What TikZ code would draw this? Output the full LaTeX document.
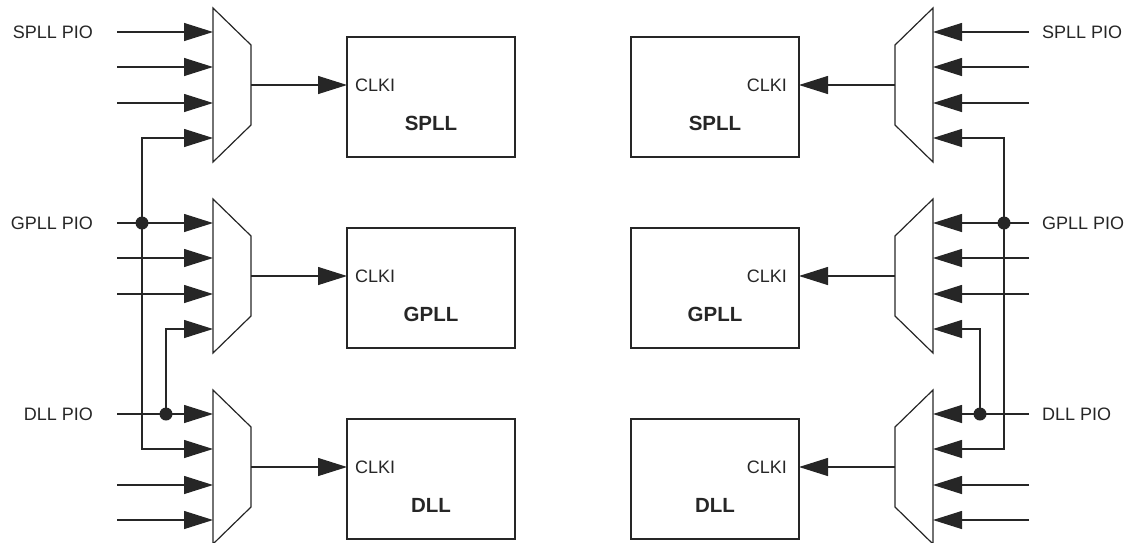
\documentclass[tikz,border=0pt]{standalone}
\usepackage{fontspec}
\setmainfont{Liberation Sans}
\usetikzlibrary{arrows.meta}
\tikzset{
  wire/.style={line width=1.2pt, draw=black!85},
  sig/.style={wire, -{Triangle[length=29pt,width=18pt]}},
  muxshape/.style={line width=1.2pt, draw=black!85},
  blk/.style={draw=black!85, line width=1.2pt, minimum width=168pt, minimum height=120pt, inner sep=0pt},
  lbl/.style={font=\fontsize{18}{20}\selectfont, inner sep=0pt, text=black!85},
  blkname/.style={font=\fontsize{20.5}{22}\selectfont\bfseries, inner sep=0pt, text=black!85},
  jdot/.style={fill=black!85},
}
% #1 prefix, #2 label anchor, #3 label x, #4 CLKI anchor, #5 CLKI x
\newcommand\drawside[5]{%
  \foreach \n/\c/\t in {1/85/SPLL,2/276/GPLL,3/467/DLL}{
    \draw[muxshape] (213,\c-77) -- (251,\c-40) -- (251,\c+40) -- (213,\c+77) -- cycle;
    \coordinate (#1m\n i1) at (213,\c-53);
    \coordinate (#1m\n i2) at (213,\c-18);
    \coordinate (#1m\n i3) at (213,\c+18);
    \coordinate (#1m\n i4) at (213,\c+53);
    \coordinate (#1m\n o) at (251,\c);
    \coordinate (#1pin\n) at (347,\c);
    \node[blk] (#1b\n) at (431,\c+12) {};
    \node[lbl, anchor=#4] (#1clk\n) at (#5,\c) {CLKI};
    \node[blkname] (#1name\n) at (431,\c+38) {\t};
    \draw[sig] (#1m\n o) -- (#1pin\n);
  }
  % labels
  \node[lbl, anchor=#2] (#1lS) at (#3,32) {SPLL PIO};
  \node[lbl, anchor=#2] (#1lG) at (#3,223) {GPLL PIO};
  \node[lbl, anchor=#2] (#1lD) at (#3,414) {DLL PIO};
  % free input starts
  \coordinate (#1s11) at (117,32);
  \coordinate (#1s12) at (117,67);
  \coordinate (#1s13) at (117,103);
  \coordinate (#1s21) at (117,223);
  \coordinate (#1s22) at (117,258);
  \coordinate (#1s23) at (117,294);
  \coordinate (#1s31) at (117,414);
  \coordinate (#1s33) at (117,485);
  \coordinate (#1s34) at (117,520);
  \foreach \a/\b in {s11/m1i1,s12/m1i2,s13/m1i3,s21/m2i1,s22/m2i2,s23/m2i3,s31/m3i1,s33/m3i3,s34/m3i4}{
    \draw[sig] (#1\a) -- (#1\b);
  }
  % junctions
  \coordinate (#1jG) at (142,223);
  \coordinate (#1jD) at (166,414);
  \draw[sig] (#1jG) |- (#1m1i4);
  \draw[sig] (#1jG) |- (#1m3i2);
  \draw[sig] (#1jD) |- (#1m2i4);
  \fill[jdot] (#1jG) circle (6.5pt);
  \fill[jdot] (#1jD) circle (6.5pt);
}
\begin{document}
\begin{tikzpicture}[x=1pt,y=-1pt]
  \useasboundingbox (0,0) rectangle (1132,542);
  \clip (0,0) rectangle (1132,542);
  \drawside{L}{east}{93}{west}{355}
  \begin{scope}[xshift=1146pt, xscale=-1]
    \drawside{R}{west}{104}{east}{359}
  \end{scope}
\end{tikzpicture}
\end{document}
